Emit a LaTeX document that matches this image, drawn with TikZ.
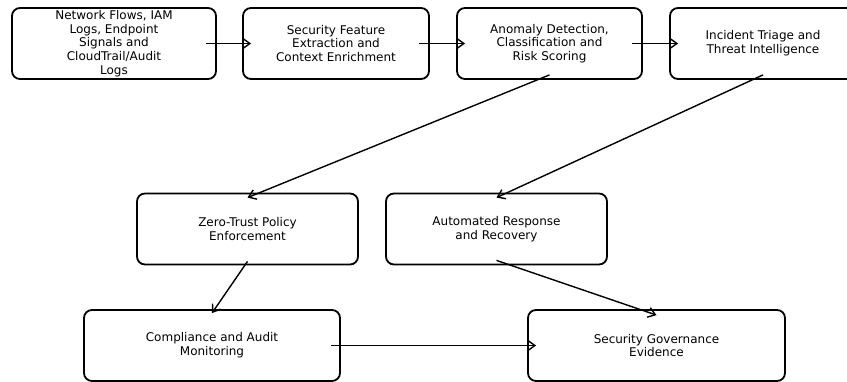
\documentclass[tikz,border=0pt]{standalone}
\usepackage{fontspec}
\setmainfont{DejaVu Sans}
\usepackage{tikz}
\usetikzlibrary{arrows.meta, positioning}

\begin{document}
\begin{tikzpicture}[
  x=1pt, y=-1pt,
  box/.style={draw, line width=1.8pt, rounded corners=8pt, align=center,
              minimum height=71pt, inner sep=2pt,
              font=\fontsize{12}{13.75}\selectfont},
  flow/.style={-{Straight Barb[length=7pt, width=10pt]}, line width=1.4pt},
]
  \useasboundingbox (0,0) rectangle (847,381);

  % --- pipeline stages ---
  \node[box, minimum width=204pt] (src) at (114,43.5)
    {Network Flows, IAM\\Logs, Endpoint\\Signals and\\CloudTrail/Audit\\Logs};
  \node[box, minimum width=186pt] (feat) at (336,43.5)
    {Security Feature\\Extraction and\\Context Enrichment};
  \node[box, minimum width=185pt] (detect) at (549.5,43.5)
    {Anomaly Detection,\\Classification and\\Risk Scoring};
  \node[box, minimum width=186pt] (triage) at (763,43.5)
    {Incident Triage and\\Threat Intelligence};

  % --- control stages ---
  \node[box, minimum width=221pt] (ztp) at (247.5,229)
    {Zero-Trust Policy\\Enforcement};
  \node[box, minimum width=221pt] (resp) at (496.5,229)
    {Automated Response\\and Recovery};

  % --- reporting ---
  \node[box, minimum width=256pt] (audit) at (212,345.5)
    {Compliance and Audit\\Monitoring};
  \node[box, minimum width=257pt] (gov) at (656.5,345.5)
    {Security Governance\\Evidence};

  % top row, left to right
  \foreach \a/\b in {src/feat, feat/detect, detect/triage} {
    \draw[flow] ([xshift=-11pt]\a.east) -- ([xshift=9pt]\b.west);
  }

  % down into the control stages
  \draw[flow] ([yshift=5pt]detect.south) -- ([yshift=-5pt]ztp.north);
  \draw[flow] ([yshift=5pt]triage.south) -- ([yshift=-5pt]resp.north);
  \draw[flow] ([yshift=4pt]ztp.south) -- ([yshift=-4pt]audit.north);
  \draw[flow] ([yshift=5pt]resp.south) -- ([yshift=-6pt]gov.north);

  % bottom row
  \draw[flow] ([xshift=-10pt]audit.east) -- ([xshift=9pt]gov.west);

\end{tikzpicture}
\end{document}
